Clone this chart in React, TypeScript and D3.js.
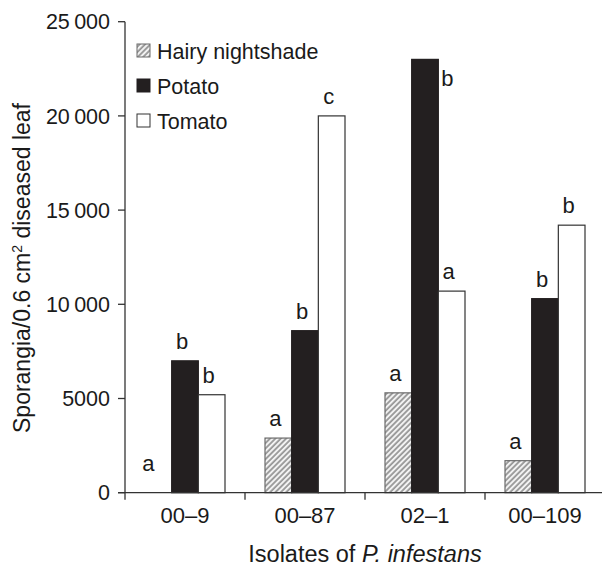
import React, { useRef, useEffect } from 'react';
import * as d3 from 'd3';

const categories = ['00–9', '00–87', '02–1', '00–109'];
const seriesNames = ['Hairy nightshade', 'Potato', 'Tomato'];
const hairyValues = [0, 2900, 5300, 1700];
const potatoValues = [7000, 8600, 23000, 10300];
const tomatoValues = [5200, 20000, 10700, 14200];
const hairyLetters = ['a', 'a', 'a', 'a'];
const potatoLetters = ['b', 'b', 'b', 'b'];
const tomatoLetters = ['b', 'c', 'a', 'b'];
const yTicks = [0, 5000, 10000, 15000, 20000, 25000];

const FONT = '"Liberation Sans", Arial, Helvetica, sans-serif';
const INK = '#1a1a1a';

export default function App() {
  const svgRef = useRef<SVGSVGElement>(null);

  useEffect(() => {
    const svg = d3.select(svgRef.current);
    svg.selectAll('*').remove();

    const x0 = d3.scaleBand().domain(categories).range([125, 605]).padding(0);
    const x1 = d3.scaleBand().domain(seriesNames).range([20, 100]).padding(0);
    const y = d3.scaleLinear().domain([0, 25000]).range([492.7, 21.7]);

    const defs = svg.append('defs');
    const pat = defs.append('pattern')
      .attr('id', 'hatch')
      .attr('width', 3.8)
      .attr('height', 3.8)
      .attr('patternUnits', 'userSpaceOnUse')
      .attr('patternTransform', 'rotate(45)');
    pat.append('rect').attr('width', 3.8).attr('height', 3.8).attr('fill', '#f2f2f2');
    pat.append('line')
      .attr('x1', 1).attr('y1', 0).attr('x2', 1).attr('y2', 3.8)
      .attr('stroke', '#8c8c8c').attr('stroke-width', 1.6);

    const fills = ['url(#hatch)', '#231f20', '#ffffff'];
    const strokes = ['#6b6b6b', '#231f20', '#333333'];

    const rows = categories.map((c, i) => ({
      cat: c,
      bars: [
        { s: seriesNames[0], v: hairyValues[i], l: hairyLetters[i], k: 0 },
        { s: seriesNames[1], v: potatoValues[i], l: potatoLetters[i], k: 1 },
        { s: seriesNames[2], v: tomatoValues[i], l: tomatoLetters[i], k: 2 },
      ],
    }));

    const groups = svg.append('g')
      .selectAll('g')
      .data(rows)
      .join('g')
      .attr('transform', d => `translate(${x0(d.cat)},0)`);

    groups.selectAll('rect')
      .data(d => d.bars.filter(b => b.v > 0))
      .join('rect')
      .attr('x', b => x1(b.s)!)
      .attr('y', b => y(b.v))
      .attr('width', x1.bandwidth())
      .attr('height', b => y(0) - y(b.v))
      .attr('fill', b => fills[b.k])
      .attr('stroke', b => strokes[b.k])
      .attr('stroke-width', 1.2);

    // significance letters (a zero bar gets its letter a bit higher, the tallest beside the bar)
    groups.selectAll('text')
      .data(d => d.bars)
      .join('text')
      .attr('x', b => b.v > 22000 ? x1(b.s)! + x1.bandwidth() + 3
        : x1(b.s)! + x1.bandwidth() / 2 - (b.v === 0 ? 10 : 3))
      .attr('y', b => b.v > 22000 ? y(b.v) + 27 : y(b.v) - (b.v === 0 ? 22 : 12))
      .attr('text-anchor', b => b.v > 22000 ? 'start' : 'middle')
      .attr('font-family', FONT)
      .attr('font-size', 22)
      .attr('fill', INK)
      .text(b => b.l);

    // y axis
    const yAxis = svg.append('g').attr('transform', 'translate(125,0)');
    yAxis.append('line')
      .attr('x1', 0).attr('x2', 0)
      .attr('y1', y(25000)).attr('y2', y(0))
      .attr('stroke', '#333').attr('stroke-width', 1.3);
    yAxis.selectAll('line.tick')
      .data(yTicks)
      .join('line')
      .attr('class', 'tick')
      .attr('x1', -7).attr('x2', 0)
      .attr('y1', d => y(d)).attr('y2', d => y(d))
      .attr('stroke', '#333').attr('stroke-width', 1.3);
    yAxis.selectAll('text')
      .data(yTicks)
      .join('text')
      .attr('x', -15)
      .attr('y', d => y(d))
      .attr('dy', '0.36em')
      .attr('text-anchor', 'end')
      .attr('font-family', FONT)
      .attr('font-size', 21.5)
      .attr('fill', INK)
      .text(d => (d >= 10000 ? d3.format(',')(d).replace(',', '\u2009') : String(d)));

    // x axis
    const xAxis = svg.append('g');
    xAxis.append('line')
      .attr('x1', 118).attr('x2', 605)
      .attr('y1', y(0)).attr('y2', y(0))
      .attr('stroke', '#333').attr('stroke-width', 1.3);
    const edges = categories.map(c => x0(c)!).concat([x0.range()[1]]);
    xAxis.selectAll('line.tick')
      .data(edges)
      .join('line')
      .attr('class', 'tick')
      .attr('x1', d => d).attr('x2', d => d)
      .attr('y1', y(0)).attr('y2', y(0) + 7)
      .attr('stroke', '#333').attr('stroke-width', 1.3);
    xAxis.selectAll('text')
      .data(categories)
      .join('text')
      .attr('x', d => x0(d)! + x0.bandwidth() / 2)
      .attr('y', 523)
      .attr('text-anchor', 'middle')
      .attr('font-family', FONT)
      .attr('font-size', 22)
      .attr('fill', INK)
      .text(d => d);

    // axis titles
    const xt = svg.append('text')
      .attr('x', 365)
      .attr('y', 562)
      .attr('text-anchor', 'middle')
      .attr('font-family', FONT)
      .attr('font-size', 23.5)
      .attr('fill', INK);
    xt.append('tspan').text('Isolates of ');
    xt.append('tspan').attr('font-style', 'italic').text('P. infestans');

    const yt = svg.append('text')
      .attr('transform', 'translate(30,268) rotate(-90)')
      .attr('text-anchor', 'middle')
      .attr('font-family', FONT)
      .attr('font-size', 23)
      .attr('fill', INK);
    yt.append('tspan').text('Sporangia/0.6 cm');
    yt.append('tspan').attr('font-size', 14).attr('dy', -8).text('2');
    yt.append('tspan').attr('dy', 8).text(' diseased leaf');

    // legend
    const legend = svg.append('g')
      .selectAll('g')
      .data(seriesNames)
      .join('g')
      .attr('transform', (d, i) => `translate(137,${51 + i * 35})`);
    legend.append('rect')
      .attr('x', 0).attr('y', -7)
      .attr('width', 13).attr('height', 13)
      .attr('fill', (d, i) => fills[i])
      .attr('stroke', (d, i) => strokes[i])
      .attr('stroke-width', 1);
    legend.append('text')
      .attr('x', 20)
      .attr('y', 0)
      .attr('dy', '0.36em')
      .attr('font-family', FONT)
      .attr('font-size', 21.5)
      .attr('fill', INK)
      .text(d => d);
  }, []);

  return (
    <div>
      <svg
        ref={svgRef}
        width={602}
        height={569}
        style={{ position: 'absolute', left: 0, top: 0, background: '#fff' }}
      ></svg>
    </div>
  );
}
